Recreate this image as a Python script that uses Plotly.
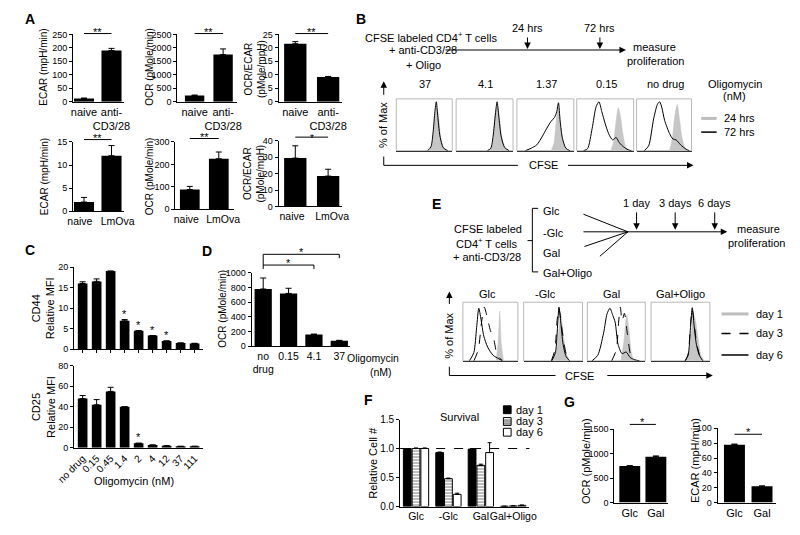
import plotly.graph_objects as go

W, H = 800, 535
FONT = "Liberation Sans, Arial, Helvetica, sans-serif"

# ================= DATA =================
# Panel A
a_cats_top = ["naive", "anti-<br>CD3/28"]
a_cats_bot = ["naive", "LmOva"]
ecar_top = [12, 190]
ecar_top_err = [2, 8]
ocr_top = [230, 1750]
ocr_top_err = [20, 210]
ratio_top = [21.5, 9.2]
ratio_top_err = [0.8, 0.2]
ecar_bot = [2.0, 12.0]
ecar_bot_err = [1.0, 2.2]
ocr_bot = [88, 225]
ocr_bot_err = [14, 30]
ratio_bot = [29.5, 18.5]
ratio_bot_err = [7.5, 4.2]

# Panel B (flow histograms, box-relative CFSE position vs % of max)
b_doses = ["37", "4.1", "1.37", "0.15", "no drug"]
b_gray_x = [
    [0.58, 0.63, 0.67, 0.70, 0.72, 0.75, 0.79, 0.84, 0.90],
    [0.58, 0.63, 0.67, 0.70, 0.73, 0.76, 0.80, 0.86, 0.92],
    [0.60, 0.65, 0.69, 0.72, 0.75, 0.79, 0.84, 0.90],
    [0.60, 0.65, 0.69, 0.73, 0.77, 0.81, 0.86, 0.92],
    [0.60, 0.65, 0.70, 0.74, 0.78, 0.83, 0.88, 0.94],
]
b_gray_y = [
    [0, 0.10, 0.45, 0.82, 0.90, 0.75, 0.32, 0.07, 0],
    [0, 0.10, 0.45, 0.82, 0.90, 0.70, 0.30, 0.06, 0],
    [0, 0.15, 0.60, 0.90, 0.70, 0.30, 0.07, 0],
    [0, 0.20, 0.60, 0.88, 0.70, 0.35, 0.08, 0],
    [0, 0.25, 0.75, 0.95, 0.65, 0.25, 0.06, 0],
]
b_black_x = [
    [0.56, 0.62, 0.66, 0.69, 0.715, 0.74, 0.78, 0.84, 0.92],
    [0.55, 0.61, 0.65, 0.69, 0.72, 0.75, 0.79, 0.85, 0.93],
    [0.15, 0.25, 0.35, 0.45, 0.52, 0.60, 0.66, 0.70, 0.73, 0.76, 0.80, 0.86, 0.93],
    [0.12, 0.19, 0.27, 0.34, 0.39, 0.44, 0.50, 0.56, 0.63, 0.69, 0.75, 0.82, 0.90, 0.96],
    [0.14, 0.22, 0.31, 0.38, 0.42, 0.46, 0.51, 0.60, 0.66, 0.72, 0.80, 0.90, 0.96],
]
b_black_y = [
    [0, 0.08, 0.40, 0.80, 1.00, 0.72, 0.30, 0.06, 0],
    [0, 0.05, 0.30, 0.75, 1.00, 0.70, 0.30, 0.07, 0],
    [0, 0.05, 0.12, 0.30, 0.45, 0.60, 0.68, 0.80, 0.98, 0.60, 0.25, 0.05, 0],
    [0, 0.04, 0.45, 0.90, 1.00, 0.80, 0.55, 0.35, 0.22, 0.27, 0.16, 0.08, 0.02, 0],
    [0, 0.10, 0.65, 0.95, 1.00, 0.88, 0.62, 0.35, 0.24, 0.22, 0.12, 0.03, 0],
]

# Panel C
c_cats = ["no drug", "0.15", "0.45", "1.4", "2", "4", "12", "37", "111"]
c_cd44 = [16.0, 16.5, 19.0, 6.9, 4.5, 3.3, 2.0, 1.5, 1.4]
c_cd44_err = [0.4, 0.6, 0, 0.3, 0, 0, 0, 0, 0]
c_cd44_sig = ["", "", "", "*", "*", "*", "*", "", ""]
c_cd25 = [48, 42, 55, 40, 4.5, 2.8, 2.0, 1.5, 1.5]
c_cd25_err = [3, 5, 4, 0, 0, 0, 0, 0, 0]
c_cd25_sig = ["", "", "", "", "*", "", "", "", ""]

# Panel D
d_cats = ["no<br>drug", "0.15", "4.1", "37"]
d_ocr = [780, 720, 160, 75]
d_ocr_err = [150, 70, 5, 5]

# Panel E (flow histograms)
e_conds = ["Glc", "-Glc", "Gal", "Gal+Oligo"]
e_gray_x = [
    [0.60, 0.64, 0.67, 0.70, 0.74],
    [0.50, 0.56, 0.60, 0.63, 0.67, 0.72, 0.78],
    [0.58, 0.63, 0.68, 0.72, 0.76, 0.80],
    [0.60, 0.65, 0.69, 0.72, 0.76, 0.80, 0.85, 0.90],
]
e_gray_y = [
    [0, 0.30, 0.90, 0.30, 0],
    [0, 0.20, 0.60, 0.85, 0.50, 0.15, 0],
    [0, 0.35, 0.83, 0.55, 0.15, 0],
    [0, 0.20, 0.60, 0.85, 0.70, 0.40, 0.10, 0],
]
e_d3_x = [
    [0.20, 0.28, 0.34, 0.39, 0.44, 0.50, 0.56, 0.62, 0.68, 0.72],
    [0.47, 0.53, 0.57, 0.60, 0.63, 0.68, 0.73, 0.80],
    [0.42, 0.50, 0.54, 0.57, 0.60, 0.64, 0.69, 0.75, 0.82],
    [0.58, 0.63, 0.67, 0.70, 0.73, 0.77, 0.82, 0.88],
]
e_d3_y = [
    [0, 0.20, 0.70, 0.97, 0.80, 0.55, 0.40, 0.12, 0.04, 0],
    [0, 0.20, 0.75, 0.95, 0.75, 0.35, 0.10, 0],
    [0, 0.20, 0.70, 0.97, 0.72, 0.86, 0.50, 0.10, 0],
    [0, 0.12, 0.65, 0.93, 0.70, 0.35, 0.12, 0],
]
e_d6_x = [
    [0.12, 0.20, 0.25, 0.29, 0.33, 0.38, 0.45, 0.55, 0.65, 0.72],
    [0.48, 0.54, 0.58, 0.60, 0.63, 0.67, 0.72, 0.78],
    [0.08, 0.18, 0.28, 0.34, 0.39, 0.44, 0.48, 0.53, 0.60, 0.67, 0.74, 0.82, 0.90],
    [0.58, 0.63, 0.67, 0.70, 0.73, 0.77, 0.82, 0.88],
]
e_d6_y = [
    [0, 0.15, 0.60, 0.95, 0.75, 0.45, 0.25, 0.10, 0.04, 0],
    [0, 0.15, 0.70, 0.97, 0.70, 0.30, 0.08, 0],
    [0, 0.10, 0.50, 0.85, 0.95, 0.82, 0.70, 0.30, 0.13, 0.16, 0.06, 0.02, 0],
    [0, 0.10, 0.60, 0.96, 0.65, 0.30, 0.10, 0],
]

# Panel F
f_cats = ["Glc", "-Glc", "Gal", "Gal+Oligo"]
f_day1 = [1.0, 0.93, 0.99, 0.005]
f_day1_err = [0, 0.01, 0.01, 0]
f_day3 = [1.0, 0.48, 0.71, 0.01]
f_day3_err = [0.01, 0.01, 0.02, 0.002]
f_day6 = [1.0, 0.21, 0.93, 0.02]
f_day6_err = [0.01, 0.02, 0.17, 0.005]

# Panel G
g_cats = ["Glc", "Gal"]
g_ocr = [750, 940]
g_ocr_err = [5, 15]
g_ecar = [78, 22]
g_ecar_err = [0.8, 0.5]

# ================= HELPERS =================
fig = go.Figure()
lay = dict(width=W, height=H, autosize=False, margin=dict(l=0, r=0, t=0, b=0),
           paper_bgcolor="white", plot_bgcolor="rgba(0,0,0,0)", showlegend=False,
           barmode="group", font=dict(family=FONT, color="black", size=10))
shapes, annots = [], []
AX = {}
count = [0]


def P(x, y):
    return x / W, 1 - y / H


def new_axes(key, xpx, ypx, xr, yr, xo, yo):
    count[0] += 1
    n = count[0]
    s = "" if n == 1 else str(n)
    xd = dict(domain=[xpx[0] / W, xpx[1] / W], range=list(xr), anchor="y" + s,
              showgrid=False, zeroline=False, fixedrange=True)
    yd = dict(domain=[1 - ypx[1] / H, 1 - ypx[0] / H], range=list(yr), anchor="x" + s,
              showgrid=False, zeroline=False, fixedrange=True)
    xd.update(xo)
    yd.update(yo)
    lay["xaxis" + s] = xd
    lay["yaxis" + s] = yd
    AX[key] = dict(x="x" + s, y="y" + s, xpx=xpx, ypx=ypx, xr=xr, yr=yr)
    return AX[key]


def xp(key, x):
    a = AX[key]
    return a["xpx"][0] + (x - a["xr"][0]) / (a["xr"][1] - a["xr"][0]) * (a["xpx"][1] - a["xpx"][0])


def yp(key, y):
    a = AX[key]
    return a["ypx"][1] - (y - a["yr"][0]) / (a["yr"][1] - a["yr"][0]) * (a["ypx"][1] - a["ypx"][0])


def line(x0, y0, x1, y1, color="black", width=1, dash=None):
    d = dict(color=color, width=width)
    if dash:
        d["dash"] = dash
    a0, b0 = P(x0, y0)
    a1, b1 = P(x1, y1)
    shapes.append(dict(type="line", xref="paper", yref="paper", x0=a0, y0=b0, x1=a1, y1=b1, line=d))


def text(x, y, s, size=11, xanchor="center", angle=0, bold=False):
    a, b = P(x, y)
    if bold:
        s = "<b>" + s + "</b>"
    annots.append(dict(x=a, y=b, xref="paper", yref="paper", text=s, showarrow=False,
                       font=dict(size=size, family=FONT, color="black"),
                       xanchor=xanchor, yanchor="middle", textangle=angle, borderpad=0))


def arrow(x0, y0, x1, y1):
    a, b = P(x1, y1)
    annots.append(dict(x=a, y=b, xref="paper", yref="paper", text="", showarrow=True,
                       ax=x0 - x1, ay=y0 - y1, axref="pixel", ayref="pixel",
                       arrowhead=2, arrowsize=1.3, arrowwidth=1, arrowcolor="black"))


def bar_panel(key, xpx, ypx, xr, yr, dtick, cats, vals, errs, width,
              xfont=11, yfont=9, xticks="", tickangle=0, yfmt=None, showx=True, tickpos=None):
    xo = dict(showline=True, linecolor="black", linewidth=1, tickmode="array",
              tickvals=tickpos if tickpos else list(range(len(cats))), ticktext=cats,
              ticks=xticks, ticklen=3,
              tickcolor="black", tickfont=dict(size=xfont, family=FONT, color="black"),
              tickangle=tickangle, showticklabels=showx)
    yo = dict(showline=True, linecolor="black", linewidth=1, ticks="outside", ticklen=3,
              tickcolor="black", tickmode="linear", tick0=0, dtick=dtick,
              tickfont=dict(size=yfont, family=FONT, color="black"))
    if yfmt:
        yo["tickformat"] = yfmt
    a = new_axes(key, xpx, ypx, xr, yr, xo, yo)
    fig.add_trace(go.Bar(x=list(range(len(vals))), y=vals, width=width,
                         marker=dict(color="black", line=dict(width=0)),
                         error_y=dict(type="data", array=errs, arrayminus=[0] * len(errs),
                                      symmetric=False, color="black", thickness=1, width=3),
                         xaxis=a["x"], yaxis=a["y"], hoverinfo="skip"))
    return a


def sig(key, i0, i1, yval, label, size=11, lift=2):
    x0, x1 = xp(key, i0), xp(key, i1)
    y = yp(key, yval)
    line(x0, y, x1, y)
    text((x0 + x1) / 2, y - lift, label, size=size)


def hist_panel(key, xpx, ypx):
    xo = dict(showline=True, linecolor="#333333", linewidth=1, showticklabels=False, ticks="")
    yo = dict(showline=False, showticklabels=False, ticks="")
    a = new_axes(key, xpx, ypx, [0, 1], [0, 1.06], xo, yo)
    x0, y0 = P(xpx[0], ypx[1])
    x1, y1 = P(xpx[1], ypx[0])
    shapes.append(dict(type="rect", xref="paper", yref="paper", x0=x0, x1=x1, y0=y0, y1=y1,
                       line=dict(color="#b8b8b8", width=1), layer="below"))
    return a


def gray_curve(a, xs, ys):
    fig.add_trace(go.Scatter(x=xs, y=ys, mode="lines", fill="tozeroy", fillcolor="#c6c6c6",
                             line=dict(color="#c6c6c6", width=0.5, shape="spline", smoothing=0.7),
                             xaxis=a["x"], yaxis=a["y"], hoverinfo="skip"))


def black_curve(a, xs, ys, dash=None):
    ld = dict(color="black", width=1, shape="spline", smoothing=0.7)
    if dash:
        ld["dash"] = dash
    fig.add_trace(go.Scatter(x=xs, y=ys, mode="lines", line=ld,
                             xaxis=a["x"], yaxis=a["y"], hoverinfo="skip"))


# ================= PANEL A =================
text(12, 13, "A", size=14, bold=True)
bar_panel("A1", (57, 110), (29, 98), (-0.40, 1.46), (0, 250), 50, a_cats_top, ecar_top, ecar_top_err, 0.73)
bar_panel("A2", (165, 227), (29, 98), (-0.61, 1.49), (0, 2500), 500, a_cats_top, ocr_top, ocr_top_err, 0.68)
bar_panel("A3", (270, 336), (29, 98), (-0.51, 1.43), (0, 25), 5, a_cats_top, ratio_top, ratio_top_err, 0.68)
bar_panel("A4", (57, 110), (139, 210), (-0.40, 1.46), (0, 15), 5, a_cats_bot, ecar_bot, ecar_bot_err, 0.73,
          xfont=10.5, tickpos=[-0.15, 1.22])
bar_panel("A5", (163, 224), (139, 208), (-0.50, 1.53), (0, 300), 100, a_cats_bot, ocr_bot, ocr_bot_err, 0.68,
          xfont=10.5, tickpos=[-0.12, 1.15])
bar_panel("A6", (270, 336), (138, 205), (-0.51, 1.43), (0, 40), 10, a_cats_bot, ratio_bot, ratio_bot_err, 0.68,
          xfont=10.5, tickpos=[-0.1, 1.12])

sig("A1", 0, 1, 253, "**")
sig("A2", 0, 1, 2530, "**")
sig("A3", 0, 1, 25.3, "**")
sig("A4", 0, 1, 15.5, "**")
sig("A5", 0, 1, 315, "**")
sig("A6", 0, 1, 42.3, "*", size=10, lift=-1)

text(27, 63, "ECAR (mpH/min)", size=10, angle=-90)
text(136, 62, "OCR (pMole/min)", size=10, angle=-90)
text(245, 64, "OCR/ECAR<br>(pMole/mpH)", size=10, angle=-90)
text(27, 175, "ECAR (mpH/min)", size=10, angle=-90)
text(136, 174, "OCR (pMole/min)", size=10, angle=-90)
text(245, 171, "OCR/ECAR<br>(pMole/mpH)", size=10, angle=-90)

# ================= PANEL B =================
text(355, 13, "B", size=14, bold=True)
text(428, 32, "CFSE labeled CD4<sup>+</sup> T cells", size=11)
text(420, 45, "+ anti-CD3/28", size=11)
text(420, 60, "+ Oligo", size=11)
arrow(448, 45, 630, 45)
arrow(528, 31, 528, 44)
arrow(603, 31, 603, 44)
text(528, 23, "24 hrs", size=11)
text(603, 22, "72 hrs", size=11)
text(660, 42, "measure", size=11)
text(661, 56, "proliferation", size=11)

b_boxes = [(392, 450), (454, 513), (517, 576), (579, 638), (641, 698)]
for i, bx in enumerate(b_boxes):
    a = hist_panel("B%d" % i, bx, (95, 148))
    gray_curve(a, b_gray_x[i], b_gray_y[i])
    black_curve(a, b_black_x[i], b_black_y[i])
    text((bx[0] + bx[1]) / 2 + 1, 80, b_doses[i], size=11)
text(743, 80, "Oligomycin", size=11)
text(743, 92, "(nM)", size=11)

text(379, 122, "% of Max", size=11, angle=-90)
arrow(379, 92, 379, 77)
line(379, 154, 379, 163)
line(379, 163, 518, 163)
text(545, 163, "CFSE", size=11)
arrow(573, 163, 700, 163)

line(708, 115, 724, 115, color="#bdbdbd", width=3)
text(731, 115, "24 hrs", size=11, xanchor="left")
line(708, 129, 724, 129, color="black", width=1.5)
text(731, 129, "72 hrs", size=11, xanchor="left")

# ================= PANEL C =================
text(12, 250, "C", size=14, bold=True)
bar_panel("C1", (58, 192), (267, 351), (-0.62, 8.62), (0, 20), 5, [""] * 9, c_cd44, c_cd44_err,
          0.69, xticks="outside", showx=False)
for i, s in enumerate(c_cd44_sig):
    if s:
        text(xp("C1", i), yp("C1", c_cd44[i] + c_cd44_err[i]) - 6, s, size=11)
bar_panel("C2", (58, 192), (368, 452), (-0.62, 8.62), (0, 80), 20, c_cats, c_cd25, c_cd25_err,
          0.69, xfont=10, tickangle=-45)
for i, s in enumerate(c_cd25_sig):
    if s:
        text(xp("C2", i), yp("C2", c_cd25[i] + c_cd25_err[i]) - 6, s, size=11)
text(26, 309, "CD44<br>Relative MFI", size=11, angle=-90)
text(26, 410, "CD25<br>Relative MFI", size=11, angle=-90)
text(120, 486, "Oligomycin (nM)", size=11)

# ================= PANEL D =================
text(196, 251, "D", size=14, bold=True)
bar_panel("D", (242, 344), (273, 348), (-0.46, 3.42), (0, 1000), 200, d_cats, d_ocr, d_ocr_err, 0.68,
          xfont=10.5)
text(211, 310, "OCR (pMole/min)", size=10, angle=-90)
text(368, 360, "Oligomycin", size=10.5)
text(376, 374, "(nM)", size=10.5)
# significance brackets
xl = xp("D", 0)
y_top, y_2 = 254, 265
line(xl, y_top, xl, y_2 + 4)
line(xl, y_top, xp("D", 3), y_top)
line(xp("D", 3), y_top, xp("D", 3), y_top + 4)
text((xl + xp("D", 3)) / 2, y_top - 2, "*", size=11)
line(xl, y_2, xp("D", 2), y_2)
line(xp("D", 2), y_2, xp("D", 2), y_2 + 4)
text((xl + xp("D", 2)) / 2, y_2 - 2, "*", size=11)

# ================= PANEL E =================
text(434, 203, "E", size=14, bold=True)
text(487, 228, "CFSE labeled", size=11)
text(486, 242, "CD4<sup>+</sup> T cells", size=11)
text(486, 257, "+ anti-CD3/28", size=11)
line(533, 207, 533, 272)
line(533, 207, 539, 207)
line(533, 272, 539, 272)
line(528, 240, 533, 240)
text(543, 210, "Glc", size=11, xanchor="left")
text(543, 232, "-Glc", size=11, xanchor="left")
text(543, 253, "Gal", size=11, xanchor="left")
text(543, 273, "Gal+Oligo", size=11, xanchor="left")
line(586, 213, 632, 231)
line(586, 231, 632, 231)
line(587, 246, 632, 231)
line(603, 256, 632, 231)
arrow(632, 231, 735, 231)
for xx, lab in [(641, "1 day"), (681, "3 days"), (722, "6 days")]:
    arrow(xx, 210, xx, 229)
    text(xx, 202, lab, size=11)
text(767, 228, "measure", size=11)
text(765, 242, "proliferation", size=11)

e_boxes = [(461, 518), (524, 585), (590, 650), (656, 717)]
e_lab_x = [487, 547, 615, 687]
for i, bx in enumerate(e_boxes):
    a = hist_panel("E%d" % i, bx, (303, 363))
    gray_curve(a, e_gray_x[i], e_gray_y[i])
    black_curve(a, e_d3_x[i], e_d3_y[i], dash="dash")
    black_curve(a, e_d6_x[i], e_d6_y[i])
    text(e_lab_x[i], 295, e_conds[i], size=11)

text(447, 337, "% of Max", size=11, angle=-90)
arrow(447, 306, 447, 292)
line(447, 369, 447, 378)
line(447, 378, 557, 378)
text(582, 378, "CFSE", size=11)
arrow(613, 378, 720, 378)

line(729, 315, 757, 315, color="#bdbdbd", width=3)
text(764, 315, "day 1", size=11, xanchor="left")
line(729, 335, 757, 335, color="black", width=1.5, dash="dash")
text(764, 335, "day 3", size=11, xanchor="left")
line(729, 357, 757, 357, color="black", width=1.5)
text(764, 357, "day 6", size=11, xanchor="left")

# ================= PANEL F =================
text(363, 403, "F", size=14, bold=True)
fo_x = dict(showline=True, linecolor="black", linewidth=1, tickmode="array",
            tickvals=list(range(len(f_cats))), ticktext=f_cats, ticks="",
            tickfont=dict(size=10.5, family=FONT, color="black"), tickangle=0)
fo_y = dict(showline=True, linecolor="black", linewidth=1, ticks="outside", ticklen=3,
            tickcolor="black", tickmode="linear", tick0=0, dtick=0.5, tickformat=".1f",
            tickfont=dict(size=10, family=FONT, color="black"))
af = new_axes("F", (396, 530), (423, 512), (-0.49, 3.5), (0, 1.5), fo_x, fo_y)
bw = 0.24
for vals, errs, off, mk in [
    (f_day1, f_day1_err, -0.39, dict(color="black", line=dict(color="black", width=1))),
    (f_day3, f_day3_err, -0.12, dict(color="white", line=dict(color="black", width=1),
                                     pattern=dict(shape="-", fgcolor="black", bgcolor="white",
                                                  size=3, solidity=0.35))),
    (f_day6, f_day6_err, 0.15, dict(color="white", line=dict(color="black", width=1))),
]:
    fig.add_trace(go.Bar(x=list(range(len(vals))), y=vals, width=bw, offset=off, marker=mk,
                         error_y=dict(type="data", array=errs, arrayminus=[0] * len(errs),
                                      symmetric=False, color="black", thickness=1, width=2),
                         xaxis=af["x"], yaxis=af["y"], hoverinfo="skip"))
line(xp("F", -0.49), yp("F", 1.0), xp("F", 3.5), yp("F", 1.0), dash="dash")
text(458, 420, "Survival", size=11)
text(367, 467, "Relative Cell #", size=11, angle=-90)
# legend
shapes.append(dict(type="rect", xref="paper", yref="paper",
                   x0=503 / W, x1=511 / W, y0=1 - 417 / H, y1=1 - 409 / H,
                   fillcolor="black", line=dict(color="black", width=1)))
shapes.append(dict(type="rect", xref="paper", yref="paper",
                   x0=503 / W, x1=511 / W, y0=1 - 429 / H, y1=1 - 421 / H,
                   fillcolor="white", line=dict(color="black", width=1)))
for yy in (423.5, 425.5, 427.5):
    line(503, yy, 511, yy, width=0.7)
shapes.append(dict(type="rect", xref="paper", yref="paper",
                   x0=503 / W, x1=511 / W, y0=1 - 440 / H, y1=1 - 432 / H,
                   fillcolor="white", line=dict(color="black", width=1)))
text(515, 413, "day 1", size=11, xanchor="left")
text(515, 425, "day 3", size=11, xanchor="left")
text(515, 436, "day 6", size=11, xanchor="left")

# ================= PANEL G =================
text(571, 405, "G", size=14, bold=True)
bar_panel("G1", (618, 674), (433, 508), (-0.59, 1.48), (0, 1500), 500, g_cats, g_ocr, g_ocr_err, 0.8, yfont=9)
bar_panel("G2", (725, 785), (432, 508), (-0.61, 1.49), (0, 100), 20, g_cats, g_ecar, g_ecar_err, 0.76, yfont=9)
sig("G1", 0, 1, 1600, "*")
sig("G2", 0, 1, 92, "*")
text(588, 465, "OCR (pMole/min)", size=11, angle=-90)
text(701, 465, "ECAR (mpH/min)", size=11, angle=-90)

lay["shapes"] = shapes
lay["annotations"] = annots
fig.update_layout(**lay)
fig.write_html("out.html", config={"displayModeBar": False, "staticPlot": True},
               post_script="document.body.style.margin='0';document.body.style.overflow='hidden';")
